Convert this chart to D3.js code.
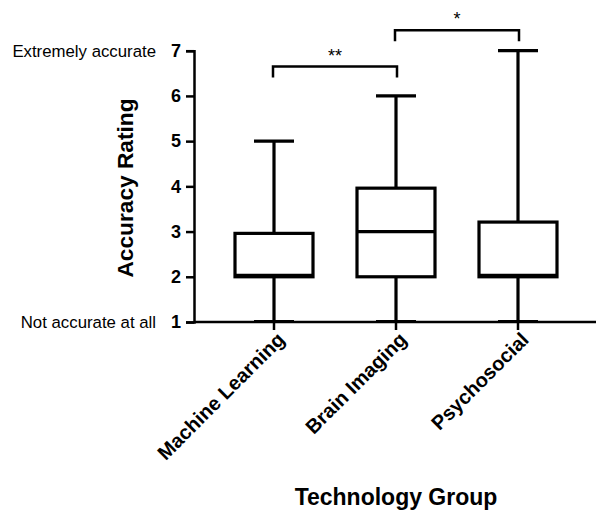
<!DOCTYPE html>
<html lang="en">
<head>
  <meta charset="utf-8">
  <title>Accuracy Rating by Technology Group</title>
  <script src="https://d3js.org/d3.v7.min.js"></script>
  <style>
    body { margin: 0; background: #fff; }
    text { font-family: Arial, "Liberation Sans", sans-serif; fill: #000; }
  </style>
</head>
<body>
<div id="chart"></div>
<script>
// box plot summary
var groups = ["Machine Learning", "Brain Imaging", "Psychosocial"];
var mins    = [1, 1, 1];
var q1s     = [2, 2, 2];
var medians = [2, 3, 2];
var q3s     = [2.96, 3.96, 3.21];
var maxes   = [5, 6, 7];

var yTicks = [1, 2, 3, 4, 5, 6, 7];
var anchorLabels = [{ v: 7, text: "Extremely accurate" }, { v: 1, text: "Not accurate at all" }];

// significance brackets: from group, to group, height (rating units), stars
var sigFrom  = [0, 1];
var sigTo    = [1, 2];
var sigLevel = [6.65, 7.45];
var sigText  = ["**", "*"];

var width = 596, height = 514;
var axisX = 194, axisRight = 596;

var svg = d3.select("#chart").append("svg")
  .attr("width", width)
  .attr("height", height);

var y = d3.scaleLinear().domain([1, 7]).range([322, 50.7]);
var x = d3.scaleBand().domain(groups).range([213, 579]);
var cx = function(g) { return x(g) + x.bandwidth() / 2; };

// y axis
var yAxis = svg.append("g")
  .attr("transform", "translate(" + axisX + ",0)")
  .call(d3.axisLeft(y).tickValues(yTicks).tickSize(8).tickPadding(5).tickFormat(d3.format("d")));
yAxis.select(".domain").attr("stroke-width", 2.5);
yAxis.selectAll(".tick line").attr("stroke-width", 2.5);
yAxis.selectAll(".tick text")
  .style("font-size", "18px")
  .style("font-weight", "bold");

// x axis (line runs across the whole plot)
svg.append("line")
  .attr("x1", axisX).attr("x2", axisRight)
  .attr("y1", y(1)).attr("y2", y(1))
  .attr("stroke", "#000").attr("stroke-width", 2.5);

var xAxis = svg.append("g")
  .attr("transform", "translate(0," + y(1) + ")")
  .call(d3.axisBottom(x).tickSize(8).tickPadding(4));
xAxis.select(".domain").remove();
xAxis.selectAll(".tick line").attr("stroke-width", 2.5);
xAxis.selectAll(".tick text")
  .style("font-size", "20px")
  .style("font-weight", "bold")
  .attr("text-anchor", "end")
  .attr("transform", "translate(7,14) rotate(-45)")
  .attr("dy", "0.35em")
  .attr("y", 0)
  .attr("x", 0);

// anchor labels next to 7 and 1
svg.selectAll(".anchor")
  .data(anchorLabels)
  .enter().append("text")
  .attr("class", "anchor")
  .attr("x", 156)
  .attr("y", function(d) { return y(d.v); })
  .attr("dy", "0.35em")
  .attr("text-anchor", "end")
  .style("font-size", "16.8px")
  .text(function(d) { return d.text; });

// axis titles
svg.append("text")
  .attr("transform", "translate(133,188) rotate(-90)")
  .attr("text-anchor", "middle")
  .style("font-size", "22.7px")
  .style("font-weight", "bold")
  .text("Accuracy Rating");

svg.append("text")
  .attr("x", 396)
  .attr("y", 505)
  .attr("text-anchor", "middle")
  .style("font-size", "23px")
  .style("font-weight", "bold")
  .text("Technology Group");

// boxes
var boxW = 78, capW = 40, sw = 3.2;
var data = groups.map(function(g, i) {
  return { g: g, min: mins[i], q1: q1s[i], med: medians[i], q3: q3s[i], max: maxes[i] };
});

var box = svg.selectAll(".box")
  .data(data)
  .enter().append("g")
  .attr("class", "box");

// whiskers
box.append("line")
  .attr("x1", function(d) { return cx(d.g); })
  .attr("x2", function(d) { return cx(d.g); })
  .attr("y1", function(d) { return y(d.min); })
  .attr("y2", function(d) { return y(d.max); })
  .attr("stroke", "#000").attr("stroke-width", sw);

box.append("line")
  .attr("x1", function(d) { return cx(d.g) - capW / 2; })
  .attr("x2", function(d) { return cx(d.g) + capW / 2; })
  .attr("y1", function(d) { return y(d.max); })
  .attr("y2", function(d) { return y(d.max); })
  .attr("stroke", "#000").attr("stroke-width", sw);

box.append("line")
  .attr("x1", function(d) { return cx(d.g) - capW / 2; })
  .attr("x2", function(d) { return cx(d.g) + capW / 2; })
  .attr("y1", function(d) { return y(d.min) - 0.5; })
  .attr("y2", function(d) { return y(d.min) - 0.5; })
  .attr("stroke", "#000").attr("stroke-width", sw);

box.append("rect")
  .attr("x", function(d) { return cx(d.g) - boxW / 2; })
  .attr("width", boxW)
  .attr("y", function(d) { return y(d.q3); })
  .attr("height", function(d) { return y(d.q1) - y(d.q3); })
  .attr("fill", "#fff")
  .attr("stroke", "#000").attr("stroke-width", sw);

box.append("line")
  .attr("x1", function(d) { return cx(d.g) - boxW / 2; })
  .attr("x2", function(d) { return cx(d.g) + boxW / 2; })
  .attr("y1", function(d) { return y(d.med) - (d.med === d.q1 ? 1.5 : 0); })
  .attr("y2", function(d) { return y(d.med) - (d.med === d.q1 ? 1.5 : 0); })
  .attr("stroke", "#000").attr("stroke-width", sw);

// significance brackets
sigText.forEach(function(t, i) {
  var x1 = cx(groups[sigFrom[i]]) - 1, x2 = cx(groups[sigTo[i]]) + 1;
  var yy = y(sigLevel[i]);
  svg.append("path")
    .attr("d", "M" + x1 + "," + (yy + 11) + "V" + yy + "H" + x2 + "V" + (yy + 11))
    .attr("fill", "none")
    .attr("stroke", "#000")
    .attr("stroke-width", 2.5);
  svg.append("text")
    .attr("x", (x1 + x2) / 2)
    .attr("y", yy - 5)
    .attr("text-anchor", "middle")
    .style("font-size", "18px")
    .text(t);
});
</script>
</body>
</html>
